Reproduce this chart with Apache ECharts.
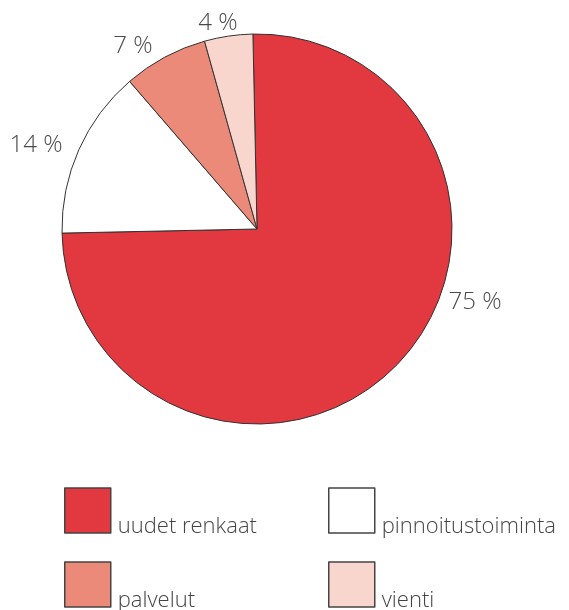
<!DOCTYPE html>
<html>
<head>
<meta charset="utf-8">
<script src="https://cdn.jsdelivr.net/npm/echarts@6/dist/echarts.min.js"></script>
<style>
  html, body { margin: 0; padding: 0; background: #ffffff; }
  #chart { width: 569px; height: 610px; }
</style>
</head>
<body>
<div id="chart"></div>
<script>
const CATEGORIES = ["uudet renkaat", "pinnoitustoiminta", "palvelut", "vienti"];
const VALUES = [75, 14, 7, 4];
const COLORS = ["#E2383F", "#FFFFFF", "#EC8A7A", "#F8D6CD"];

// label anchor points (text placement only)
const LABEL_POS = [
  [475, 302],
  [36, 145],
  [133, 46],
  [218, 23],
];

const FONT = "'Open Sans', 'DejaVu Sans', sans-serif";

const chart = echarts.init(document.getElementById("chart"), null, { renderer: "canvas" });

const legendBase = {
  orient: "vertical",
  icon: "rect",
  itemWidth: 46,
  itemHeight: 45,
  itemGap: 19,
  height: 170,
  padding: 0,
  selectedMode: false,
  itemStyle: { borderColor: "#444444", borderWidth: 1.5 },
  formatter: "{a|{name}}",
  textStyle: {
    color: "#444444",
    fontFamily: FONT,
    fontWeight: 300,
    fontSize: 22,
    rich: {
      a: {
        color: "#444444",
        fontFamily: FONT,
        fontWeight: 300,
        fontSize: 22,
        lineHeight: 22,
        padding: [33, 0, 0, 2],
      },
    },
  },
};

chart.setOption({
  backgroundColor: "#ffffff",
  animation: false,
  color: COLORS,
  legend: [
    Object.assign({}, legendBase, { left: 64, top: 483, data: [CATEGORIES[0], CATEGORIES[2]] }),
    Object.assign({}, legendBase, { left: 328, top: 483, data: [CATEGORIES[1], CATEGORIES[3]] }),
  ],
  series: [
    {
      type: "pie",
      center: [257, 229],
      radius: 195,
      startAngle: 91.2,
      clockwise: true,
      label: {
        show: true,
        position: "outside",
        overflow: "none",
        formatter: (p) => p.value + " %",
        color: "#4a4a4a",
        fontFamily: FONT,
        fontWeight: 300,
        fontSize: 24,
      },
      labelLine: { show: false },
      labelLayout: (params) => ({
        x: LABEL_POS[params.dataIndex][0],
        y: LABEL_POS[params.dataIndex][1],
        align: "center",
        verticalAlign: "middle",
      }),
      itemStyle: { borderColor: "#333333", borderWidth: 1 },
      emphasis: { disabled: true },
      data: CATEGORIES.map((name, i) => ({ name, value: VALUES[i] })),
    },
  ],
});
</script>
</body>
</html>
